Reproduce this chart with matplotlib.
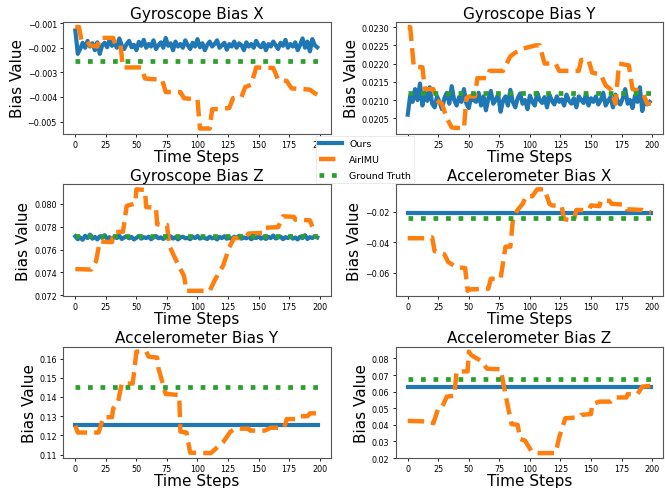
import matplotlib
matplotlib.use("Agg")
import matplotlib.pyplot as plt
import numpy as np

# AirIMU estimates, read as (step, value) breakpoints
air_t_gx = [0, 3, 5, 10, 12, 18, 20, 31, 33, 37, 39, 54, 57, 71, 74, 86, 89, 100, 102, 110,
            112, 126, 129, 136, 139, 144, 148, 162, 166, 173, 177, 192, 196, 198]
air_v_gx = [-1.16, -1.16, -1.7, -1.75, -1.9, -1.95, -1.6, -1.6, -1.9, -1.9, -2.8, -2.8, -3.25, -3.3,
            -3.8, -3.8, -4.05, -4.1, -5.28, -5.28, -4.5, -4.45, -4.05, -4.0, -3.6, -3.5, -2.8, -2.82,
            -3.3, -3.35, -3.65, -3.7, -3.85, -3.9]  # x1e-3

air_t_gy = [0, 2, 5, 12, 14, 21, 23, 28, 32, 36, 46, 48, 50, 55, 57, 65, 67, 78, 84, 88,
            93, 105, 108, 112, 121, 124, 140, 142, 148, 151, 158, 162, 166, 170, 173, 181, 184, 190,
            193, 196, 199]
air_v_gy = [230.0, 230.0, 219.0, 219.0, 213.0, 213.0, 210.0, 209.0, 205.0, 202.5, 202.2, 210.5, 211.0,
            211.0, 216.0, 216.0, 218.0, 218.0, 222.0, 223.0, 224.0, 225.0, 225.0, 220.0, 220.0, 218.0,
            218.0, 221.0, 221.0, 217.5, 217.0, 214.0, 213.0, 209.0, 220.0, 219.5, 213.0, 212.5, 211.5,
            209.0, 209.0]  # x1e-4

air_t_gz = [0, 13, 17, 20, 30, 31, 39, 42, 45, 49, 50, 57, 58, 66, 67, 75, 77, 85, 89, 91,
            110, 114, 121, 126, 130, 138, 142, 153, 155, 166, 170, 179, 180, 192, 194]
air_v_gz = [74.3, 74.25, 75.0, 76.7, 76.65, 77.5, 77.55, 79.8, 79.9, 80.0, 81.25, 81.2, 79.7, 79.65,
            78.2, 78.15, 76.3, 74.5, 73.7, 72.4, 72.4, 73.3, 74.6, 76.2, 77.0, 77.0, 77.4, 77.45, 77.9,
            77.95, 78.9, 78.85, 78.6, 78.55, 78.0]  # x1e-3

air_t_ax = [0, 14, 20, 22, 30, 33, 40, 47, 49, 50, 66, 68, 76, 80, 84, 86, 89, 94, 97, 102,
            106, 112, 116, 118, 126, 128, 136, 138, 148, 150, 157, 158, 165, 167, 177, 179, 192, 194, 199]
air_v_ax = [-37.5, -37.5, -37.0, -46.0, -48.0, -53.0, -56.5, -57.0, -71.9, -71.0, -70.5, -64.0, -64.0,
            -43.0, -43.0, -26.0, -20.0, -15.0, -10.0, -10.0, -5.5, -5.5, -15.0, -16.0, -16.5, -25.0,
            -26.0, -19.0, -19.0, -16.0, -16.5, -13.0, -13.0, -15.0, -15.5, -18.5, -19.0, -20.0, -20.5]  # x1e-3

air_t_ay = [0, 2, 19, 23, 30, 31, 35, 38, 47, 50, 58, 60, 67, 68, 74, 76, 85, 86, 91, 94,
            111, 113, 121, 127, 131, 142, 143, 155, 160, 171, 173, 182, 184, 190, 192, 199]
air_v_ay = [125.0, 121.5, 121.5, 129.5, 129.5, 134.0, 137.5, 147.0, 147.0, 163.6, 163.6, 161.0, 160.5,
            155.0, 141.5, 141.5, 141.0, 122.0, 121.5, 111.0, 110.8, 112.0, 116.5, 122.0, 123.5, 123.5,
            122.5, 122.5, 124.0, 124.0, 128.5, 128.5, 130.0, 130.0, 131.5, 131.5]  # x1e-3

air_t_az = [0, 17, 21, 25, 28, 32, 38, 40, 49, 50, 52, 60, 65, 76, 82, 85, 90, 92, 96, 101,
            105, 121, 124, 129, 140, 142, 150, 151, 157, 166, 169, 179, 180, 188, 192, 199]
air_v_az = [42.4, 42.0, 41.0, 50.0, 50.5, 57.0, 57.5, 72.1, 72.2, 84.1, 82.0, 78.5, 73.8, 73.5, 51.0,
            40.5, 40.0, 31.5, 30.5, 24.5, 23.0, 23.0, 32.5, 44.0, 44.5, 46.0, 46.5, 52.5, 54.0, 54.0,
            56.5, 56.5, 58.5, 58.5, 63.0, 63.5]  # x1e-3

# Ours, every 2nd step, gyro in x1e-5
ours_gx = [-130, -225, -205, -180, -200, -172, -195, -182, -210, -178, -225, -190, -180, -198, -168,
           -192, -180, -200, -162, -190, -205, -185, -172, -198, -188, -210, -176, -192, -168, -200,
           -185, -195, -170, -205, -190, -178, -200, -160, -192, -182, -210, -175, -195, -185, -200,
           -170, -190, -205, -180, -195, -165, -198, -182, -210, -188, -175, -195, -185, -170, -200,
           -190, -180, -208, -185, -195, -175, -200, -182, -190, -210, -178, -195, -185, -200, -172,
           -190, -198, -180, -210, -185, -195, -175, -190, -205, -180, -192, -168, -200, -185, -195,
           -178, -210, -188, -162, -200, -175, -215, -165, -190, -198]
ours_gy = [2060, 2112, 2095, 2130, 2100, 2145, 2085, 2120, 2098, 2135, 2090, 2080, 2110, 2095, 2075,
           2105, 2120, 2090, 2138, 2100, 2085, 2108, 2095, 2130, 2090, 2078, 2112, 2100, 2095, 2120,
           2085, 2110, 2072, 2105, 2125, 2090, 2100, 2115, 2068, 2098, 2110, 2085, 2128, 2095, 2080,
           2105, 2118, 2090, 2100, 2075, 2112, 2095, 2085, 2120, 2100, 2092, 2108, 2080, 2115, 2098,
           2088, 2110, 2095, 2102, 2085, 2115, 2098, 2090, 2105, 2080, 2110, 2100, 2092, 2118, 2085,
           2105, 2095, 2110, 2088, 2100, 2120, 2085, 2098, 2108, 2080, 2115, 2095, 2088, 2105, 2130,
           2090, 2100, 2078, 2112, 2095, 2135, 2070, 2105, 2088, 2095]
ours_gz = [7715, 7690, 7705, 7685, 7720, 7700, 7730, 7695, 7710, 7688, 7715, 7702, 7725, 7695, 7708,
           7690, 7712, 7700, 7720, 7692, 7705, 7715, 7698, 7710, 7688, 7702, 7718, 7695, 7708, 7700,
           7712, 7690, 7705, 7718, 7698, 7706, 7692, 7710, 7700, 7715, 7695, 7708, 7688, 7705, 7712,
           7698, 7702, 7690, 7710, 7700, 7718, 7695, 7706, 7700, 7692, 7712, 7698, 7705, 7688, 7710,
           7700, 7716, 7694, 7705, 7690, 7712, 7700, 7720, 7695, 7706, 7698, 7712, 7690, 7705, 7700,
           7718, 7695, 7708, 7692, 7710, 7700, 7722, 7696, 7705, 7712, 7690, 7708, 7700, 7715, 7695,
           7705, 7688, 7712, 7700, 7725, 7692, 7708, 7700, 7715, 7705]
# Ours for accelerometer is flat
ours_ax = -0.0211
ours_ay = 0.1256
ours_az = 0.0627

gt = [-0.00253, 0.02118, 0.07717, -0.024, 0.145, 0.0679]
titles = ["Gyroscope Bias X", "Gyroscope Bias Y", "Gyroscope Bias Z",
          "Accelerometer Bias X", "Accelerometer Bias Y", "Accelerometer Bias Z"]
yticks = [[-0.005, -0.004, -0.003, -0.002, -0.001],
          [0.0205, 0.0210, 0.0215, 0.0220, 0.0225, 0.0230],
          [0.072, 0.074, 0.076, 0.078, 0.080],
          [-0.06, -0.04, -0.02],
          [0.11, 0.12, 0.13, 0.14, 0.15, 0.16],
          [0.02, 0.03, 0.04, 0.05, 0.06, 0.07, 0.08]]
xticks = [0, 25, 50, 75, 100, 125, 150, 175, 200]
n_steps = 200

air_t = [air_t_gx, air_t_gy, air_t_gz, air_t_ax, air_t_ay, air_t_az]
air_v = [np.array(air_v_gx) * 1e-3, np.array(air_v_gy) * 1e-4, np.array(air_v_gz) * 1e-3,
         np.array(air_v_ax) * 1e-3, np.array(air_v_ay) * 1e-3, np.array(air_v_az) * 1e-3]
ours = [np.array(ours_gx) * 1e-5, np.array(ours_gy) * 1e-5, np.array(ours_gz) * 1e-5,
        ours_ax, ours_ay, ours_az]

blue = "#1f77b4"
orange = "#ff7f0e"
green = "#2ca02c"

fig, axes = plt.subplots(3, 2, figsize=(6.65, 4.89), dpi=100)
fig.subplots_adjust(left=0.095, right=0.997, top=0.953, bottom=0.061, wspace=0.243, hspace=0.454)

for i, ax in enumerate(axes.flat):
    o = ours[i]
    if np.ndim(o) == 0:
        ax.plot([0, n_steps - 1], [o, o], color=blue, lw=3.0, label="Ours")
    else:
        ax.plot(np.arange(len(o)) * 2, o, color=blue, lw=3.0, label="Ours")
    ax.plot(air_t[i], air_v[i], color=orange, lw=3.2, ls="--", label="AirIMU")
    ax.plot([0, n_steps - 1], [gt[i], gt[i]], color=green, lw=3.4, ls=":", label="Ground Truth")
    ax.set_title(titles[i], fontsize=11, pad=3)
    ax.set_xlabel("Time Steps", fontsize=11, labelpad=0)
    ax.set_ylabel("Bias Value", fontsize=11, labelpad=2)
    ax.set_xticks(xticks)
    ax.set_yticks(yticks[i])
    ax.tick_params(labelsize=5.8, length=2.5, width=0.6, pad=2)
    for s in ax.spines.values():
        s.set_linewidth(0.8)
        s.set_color("#555555")

handles, labels = axes[0, 0].get_legend_handles_labels()
leg = fig.legend(handles, labels, loc="center", bbox_to_anchor=(0.549, 0.672), fontsize=6.8,
                 handlelength=2.4, borderpad=0.3, labelspacing=0.75, frameon=True,
                 fancybox=False, framealpha=1.0, edgecolor="#e6e6e6")
leg.get_frame().set_linewidth(0.6)

plt.savefig("out.png", dpi=100)
